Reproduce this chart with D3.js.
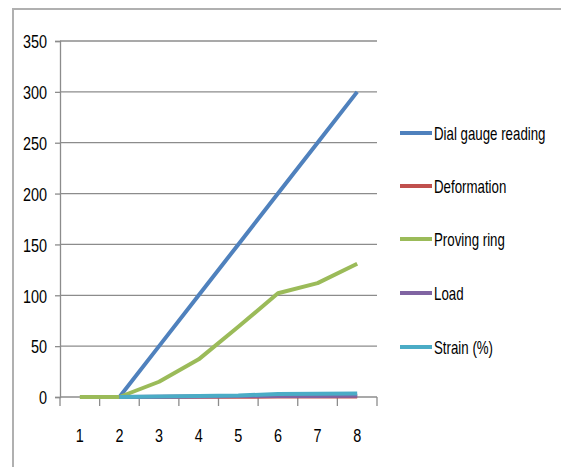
<!DOCTYPE html>
<html>
<head>
<meta charset="utf-8">
<script src="https://cdn.jsdelivr.net/npm/d3@7"></script>
<style>
  html, body { margin: 0; padding: 0; background: #fff; }
  svg text { font-family: "Liberation Sans", Arial, sans-serif; fill: #000; }
</style>
</head>
<body>
<svg id="chart" width="561" height="467"></svg>
<script>
// Readings per test step
const steps = ["1", "2", "3", "4", "5", "6", "7", "8"];
const dialGauge   = [null, 0, 50, 100, 150, 200, 250, 300];
const deformation = [null, 0, 0.1, 0.2, 0.3, 0.4, 0.5, 0.6];
const provingRing = [0, 0, 15, 37, 69, 102, 112, 131];
const load        = [null, 0, 0.3, 0.6, 0.9, 1.0, 1.1, 1.2];
const strain      = [null, 0, 0.5, 0.9, 1.4, 3.0, 3.2, 3.4];
const yTicks = [0, 50, 100, 150, 200, 250, 300, 350];

const seriesNames  = ["Dial gauge reading", "Deformation", "Proving ring", "Load", "Strain (%)"];
const seriesValues = [dialGauge, deformation, provingRing, load, strain];
const seriesColors = ["#4F81BD", "#C0504D", "#9BBB59", "#8064A2", "#4BACC6"];

const FONT = 19;      // label size
const SX_NUM = 0.76;  // horizontal condensing of axis numbers
const SX_TXT = 0.70;  // horizontal condensing of legend text

const svg = d3.select("#chart");

// outer chart frame (top and left edges)
svg.append("path")
  .attr("d", "M13,467 L13,9 L561,9")
  .attr("fill", "none").attr("stroke", "#b0b0b0").attr("stroke-width", 2);

const x = d3.scaleBand().domain(steps).range([60, 377]);
const y = d3.scaleLinear().domain([0, 350]).range([397, 41]);

// horizontal gridlines
svg.append("g").selectAll("line").data(yTicks.filter(d => d > 0)).join("line")
  .attr("x1", 60).attr("x2", 377)
  .attr("y1", d => y(d)).attr("y2", d => y(d))
  .attr("stroke", "#8c8c8c").attr("stroke-width", 1.3);

// y axis
const yAxis = svg.append("g").attr("transform", "translate(60,0)")
  .call(d3.axisLeft(y).tickValues(yTicks).tickSize(5));
yAxis.select(".domain").attr("stroke", "#8c8c8c").attr("stroke-width", 1.3);
yAxis.selectAll(".tick line").attr("stroke", "#8c8c8c").attr("stroke-width", 1.3);
yAxis.selectAll("text")
  .attr("font-size", FONT).style("font-family", null)
  .attr("x", -13 / SX_NUM).attr("dy", "0.36em")
  .attr("transform", `scale(${SX_NUM},1)`);

// x axis with boundary ticks between categories
const xAxisG = svg.append("g").attr("transform", `translate(0,${y(0)})`);
xAxisG.append("line").attr("x1", 60).attr("x2", 377)
  .attr("stroke", "#8c8c8c").attr("stroke-width", 1.3);
const boundaries = steps.map(s => x(s)).concat([x(steps[steps.length - 1]) + x.bandwidth()]);
xAxisG.selectAll(".bt").data(boundaries).join("line").attr("class", "bt")
  .attr("x1", d => d).attr("x2", d => d).attr("y1", 0).attr("y2", 9)
  .attr("stroke", "#8c8c8c").attr("stroke-width", 1.3);
xAxisG.selectAll("text").data(steps).join("text")
  .attr("transform", d => `translate(${x(d) + x.bandwidth() / 2},45) scale(${SX_NUM},1)`)
  .attr("text-anchor", "middle").attr("font-size", FONT).text(d => d);

// series lines
const line = d3.line()
  .defined(d => d.v !== null)
  .x(d => x(d.s) + x.bandwidth() / 2)
  .y(d => y(d.v));

seriesValues.forEach((vals, i) => {
  const pts = steps.map((s, j) => ({ s, v: vals[j] }));
  svg.append("path").datum(pts)
    .attr("d", line)
    .attr("fill", "none")
    .attr("stroke", seriesColors[i])
    .attr("stroke-width", 4)
    .attr("stroke-linejoin", "round");
});

// legend
const legend = svg.append("g");
const legendY = [133, 186, 239, 293, 347];
seriesNames.forEach((name, i) => {
  const g = legend.append("g").attr("transform", `translate(400,${legendY[i]})`);
  g.append("line").attr("x1", 0).attr("x2", 32).attr("y1", 0).attr("y2", 0)
    .attr("stroke", seriesColors[i]).attr("stroke-width", 4);
  g.append("text")
    .attr("transform", `translate(34,0) scale(${SX_TXT},1)`)
    .attr("dy", "0.36em")
    .attr("font-size", FONT).text(name);
});
</script>
</body>
</html>
